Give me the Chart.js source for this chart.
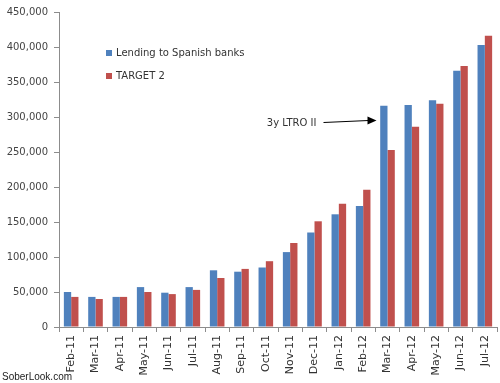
<!DOCTYPE html>
<html lang="en">
<head>
  <meta charset="utf-8">
  <title>Lending to Spanish banks vs TARGET 2</title>
  <script src="https://cdn.jsdelivr.net/npm/chart.js@4.4.1/dist/chart.umd.min.js"></script>
  <style>
    html, body { margin: 0; padding: 0; background: #fff; }
    #wrap { position: relative; width: 500px; height: 383px; }
    #credit { position: absolute; left: 2px; top: 371px; font: 10px "Liberation Sans", sans-serif; color: #222; }
  </style>
</head>
<body>
  <div id="wrap">
    <canvas id="chart" width="500" height="383"></canvas>
    <div id="credit">SoberLook.com</div>
  </div>
  <script>
    const months = ['Feb-11', 'Mar-11', 'Apr-11', 'May-11', 'Jun-11', 'Jul-11', 'Aug-11', 'Sep-11', 'Oct-11',
      'Nov-11', 'Dec-11', 'Jan-12', 'Feb-12', 'Mar-12', 'Apr-12', 'May-12', 'Jun-12', 'Jul-12'];
    const lending = [50000, 43000, 43000, 57000, 49000, 57000, 81000, 79000, 85000,
      107000, 135000, 161000, 173000, 316000, 317000, 324000, 366000, 403000];
    const target2 = [43000, 40000, 43000, 50000, 47000, 53000, 70000, 83000, 94000,
      120000, 151000, 176000, 196000, 253000, 286000, 319000, 373000, 416000];
    const seriesNames = ['Lending to Spanish banks', 'TARGET 2'];

    const font = 'DejaVu Sans';
    const axisGray = '#8c8c8c';

    // legend inside the plot + the LTRO arrow note
    const overlay = {
      id: 'overlay',
      afterDraw(chart) {
        const ctx = chart.ctx;
        const x = chart.scales.x, y = chart.scales.y;
        ctx.save();
        ctx.font = '10px "' + font + '"';
        ctx.textBaseline = 'middle';
        chart.data.datasets.forEach((ds, i) => {
          const ly = 53 + i * 23;
          ctx.fillStyle = ds.backgroundColor;
          ctx.fillRect(106, ly - 3, 6, 6);
          ctx.fillStyle = '#333';
          ctx.fillText(ds.label, 116, ly);
        });

        // 3y LTRO II arrow, pointing at the Mar-12 blue bar
        const tipX = x.getPixelForValue(13) - 11;
        const tipY = y.getPixelForValue(295000);
        ctx.fillStyle = '#333';
        ctx.textAlign = 'right';
        ctx.fillText('3y LTRO II', tipX - 60, tipY + 3);
        ctx.strokeStyle = '#000';
        ctx.lineWidth = 1;
        ctx.beginPath();
        ctx.moveTo(tipX - 53, tipY + 2);
        ctx.lineTo(tipX - 8, tipY);
        ctx.stroke();
        ctx.beginPath();
        ctx.moveTo(tipX, tipY);
        ctx.lineTo(tipX - 9, tipY - 4);
        ctx.lineTo(tipX - 9, tipY + 4);
        ctx.closePath();
        ctx.fillStyle = '#000';
        ctx.fill();
        ctx.restore();
      }
    };

    new Chart(document.getElementById('chart'), {
      type: 'bar',
      data: {
        labels: months,
        datasets: [
          { label: seriesNames[0], data: lending, backgroundColor: '#4f81bd' },
          { label: seriesNames[1], data: target2, backgroundColor: '#c0504d' }
        ]
      },
      options: {
        responsive: false,
        animation: false,
        devicePixelRatio: 1,
        layout: { padding: { top: 12, right: 0, left: 0, bottom: 0 } },
        datasets: { bar: { barPercentage: 1, categoryPercentage: 0.6 } },
        plugins: { legend: { display: false }, tooltip: { enabled: false } },
        scales: {
          x: {
            afterFit(s) { s.height = 56; s.paddingRight = 3; },
            border: { color: axisGray },
            grid: { drawOnChartArea: false, color: axisGray, tickLength: 5, offset: true },
            ticks: {
              maxRotation: 90, minRotation: 90, autoSkip: false, padding: 3,
              color: '#333', font: { family: font, size: 11 }
            }
          },
          y: {
            min: 0, max: 450000,
            afterFit(s) { s.width = 59; },
            border: { color: axisGray },
            grid: { drawOnChartArea: false, color: axisGray, tickLength: 5 },
            ticks: {
              stepSize: 50000, padding: 6, color: '#444',
              font: { family: font, size: 10 },
              callback: v => v.toLocaleString('en-US')
            }
          }
        }
      },
      plugins: [overlay]
    });
  </script>
</body>
</html>
